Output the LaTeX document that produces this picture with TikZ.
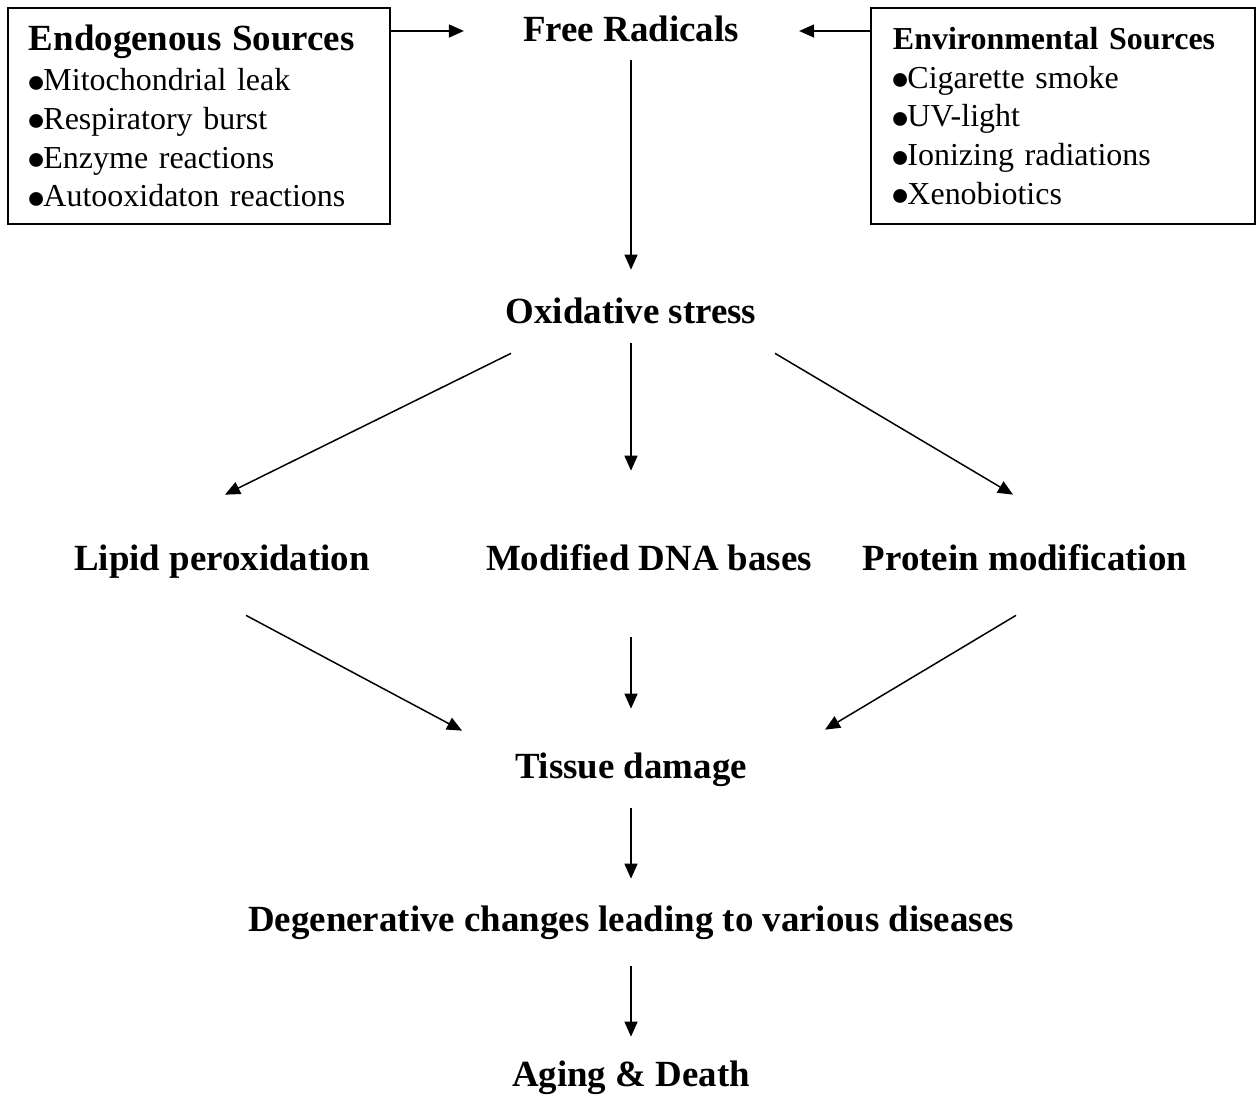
\documentclass[tikz,border=0pt]{standalone}
\usepackage{fontspec}
\usepackage{graphicx}
\setmainfont{Liberation Serif}
\usetikzlibrary{arrows.meta}
\newcommand{\dotmark}{\makebox[0.29cm][l]{\hspace{-0.04cm}\raisebox{-0.23cm}[0pt][0pt]{\scalebox{1.8}{\textbullet}}}}

\begin{document}
\begin{tikzpicture}[x=0.02cm, y=-0.02cm,
            every node/.style={inner sep=0pt, font=\fontsize{21}{25}\selectfont\bfseries},
            label_style/.style={anchor=base, text height=0.5cm, text depth=0.2cm},
            box_style/.style={draw, line width=1.1pt, anchor=north west, align=left, inner ysep=0pt,
                minimum height=4.32cm, font=\fontsize{18.2}{22}\selectfont}]
            \tikzset{arrow edge/.style={draw, line width=0.85pt, -{Triangle[length=0.3cm,width=0.26cm]}}}
            \useasboundingbox (0,0) rectangle (1256,1095);
            % source boxes
            \node [box_style, inner xsep=0.42cm, text width=6.8cm] (endo) at (7, 7)
                {{\fontsize{21}{25}\selectfont\bfseries Endogenous Sources}\\[1pt]
                 \dotmark Mitochondrial leak\\ \dotmark Respiratory burst\\
                 \dotmark Enzyme reactions\\ \dotmark Autooxidaton reactions};
            \node [box_style, inner xsep=0.44cm, text width=6.8cm] (env) at (870, 7)
                {{\bfseries Environmental Sources}\\ \dotmark Cigarette smoke\\
                 \dotmark UV-light\\ \dotmark Ionizing radiations\\ \dotmark Xenobiotics};
            % labels
            \node [label_style] (fr) at (631, 42) {Free Radicals};
            \node [label_style] (ox) at (631, 323) {Oxidative stress};
            \node [label_style] (lip) at (222, 570) {Lipid peroxidation};
            \node [label_style] (dna) at (649, 570) {Modified DNA bases};
            \node [label_style] (prot) at (1025, 570) {Protein modification};
            \node [label_style] (tis) at (631, 778) {Tissue damage};
            \node [label_style] (deg) at (631, 931) {Degenerative changes leading to various diseases};
            \node [label_style] (age) at (631, 1086) {Aging \& Death};
            % arrows
            \draw [arrow edge] ([shift={(0,24)}]endo.north east) -- ([shift={(-59,-11)}]fr.base west);
            \draw [arrow edge] ([shift={(0,24)}]env.north west) -- ([shift={(60,-11)}]fr.base east);
            \draw [arrow edge] ([shift={(0,8)}]fr.south) -- ([shift={(0,-28)}]ox.north);
            \draw [arrow edge] ([shift={(-120,20)}]ox.south) -- ([shift={(3,-50)}]lip.north);
            \draw [arrow edge] ([shift={(0,10)}]ox.south) -- ([shift={(-18,-74)}]dna.north);
            \draw [arrow edge] ([shift={(144,20)}]ox.south) -- ([shift={(-12,-50)}]prot.north);
            \draw [arrow edge] ([shift={(24,35)}]lip.south) -- ([shift={(-169,-22)}]tis.north);
            \draw [arrow edge] ([shift={(-18,57)}]dna.south) -- ([shift={(0,-44)}]tis.north);
            \draw [arrow edge] ([shift={(-9,35)}]prot.south) -- ([shift={(194,-23)}]tis.north);
            \draw [arrow edge] ([shift={(0,20)}]tis.south) -- ([shift={(0,-27)}]deg.north);
            \draw [arrow edge] ([shift={(0,25)}]deg.south) -- ([shift={(0,-24)}]age.north);
        \end{tikzpicture}
\end{document}
